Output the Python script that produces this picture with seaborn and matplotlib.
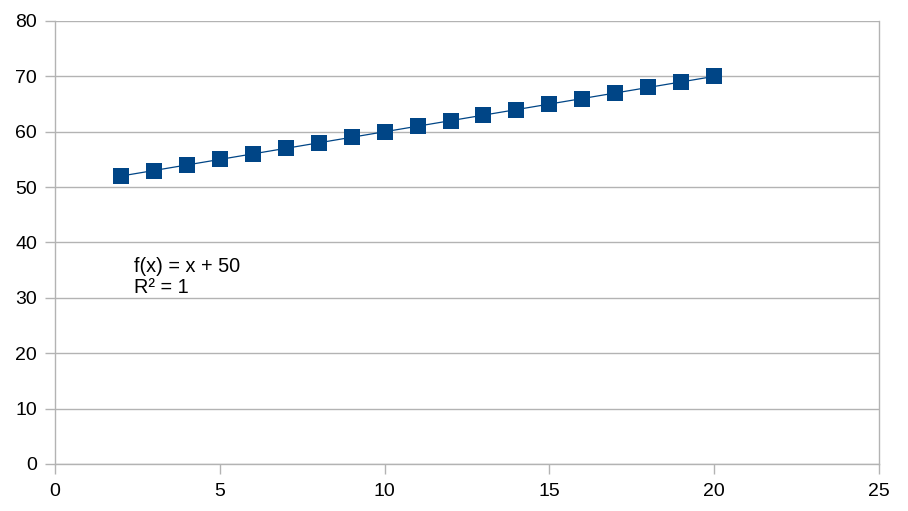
import matplotlib
matplotlib.use("Agg")
import matplotlib.pyplot as plt
import seaborn as sns
import pandas as pd

x_values = [2, 3, 4, 5, 6, 7, 8, 9, 10, 11, 12, 13, 14, 15, 16, 17, 18, 19, 20]
y_values = [52, 53, 54, 55, 56, 57, 58, 59, 60, 61, 62, 63, 64, 65, 66, 67, 68, 69, 70]
x_ticks = [0, 5, 10, 15, 20, 25]
y_ticks = [0, 10, 20, 30, 40, 50, 60, 70, 80]
equation_text = "f(x) = x + 50\nR² = 1"

sns.set_style("white")
plt.rcParams['font.family'] = ['Liberation Sans', 'DejaVu Sans']

df = pd.DataFrame({"x": x_values, "y": y_values})

fig = plt.figure(figsize=(9.08, 5.11), dpi=100)
ax = fig.add_axes([55 / 908, 1 - 464 / 511, (879 - 55) / 908, (464 - 21) / 511])

color = "#004586"
grid = "#b3b3b3"

sns.lineplot(data=df, x="x", y="y", ax=ax, color=color, linewidth=0.9, zorder=2)
sns.scatterplot(data=df, x="x", y="y", ax=ax, color=color, marker="s", s=140,
                edgecolor=color, linewidth=0, zorder=3)

ax.set_xlim(0, 25)
ax.set_ylim(0, 80)
ax.set_xticks(x_ticks)
ax.set_yticks(y_ticks)
ax.set_xlabel("")
ax.set_ylabel("")
ax.yaxis.grid(True, color=grid, linewidth=1)
ax.set_axisbelow(True)
for side in ["left", "bottom", "right"]:
    ax.spines[side].set_visible(True)
    ax.spines[side].set_color(grid)
    ax.spines[side].set_linewidth(1)
ax.spines["top"].set_visible(False)
ax.tick_params(axis="both", which="major", length=7, width=1, color=grid,
               labelsize=14, labelcolor="black", direction="out",
               bottom=True, left=True, top=False, right=False)
ax.tick_params(axis="x", pad=7)
ax.tick_params(axis="y", pad=6)

ax.text(2.4, 33.7, equation_text, fontsize=14.3, color="black", va="center", ha="left",
        linespacing=1.12)

fig.savefig("out.png", dpi=100)
